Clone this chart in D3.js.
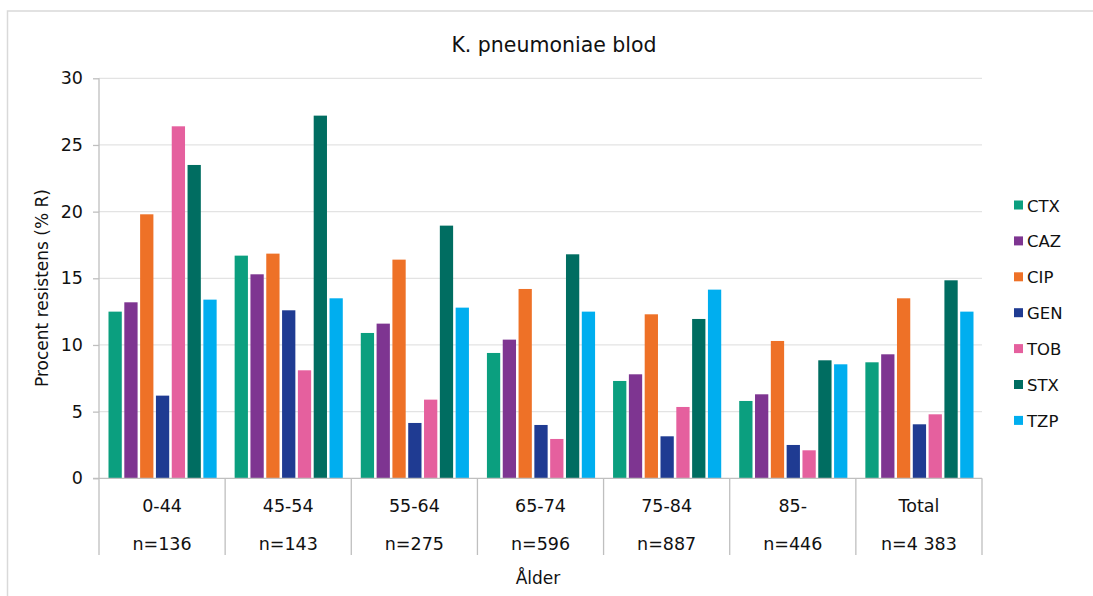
<!DOCTYPE html>
<html>
<head>
<meta charset="utf-8">
<script src="https://cdn.jsdelivr.net/npm/d3@7"></script>
<style>
html,body{margin:0;padding:0;background:#fff;}
svg{display:block;font-family:"DejaVu Sans",Verdana,sans-serif;}
</style>
</head>
<body>
<svg id="chart" width="1093" height="596"></svg>
<script>
const categories = ["0-44","45-54","55-64","65-74","75-84","85-","Total"];
const counts = ["n=136","n=143","n=275","n=596","n=887","n=446","n=4 383"];
const seriesNames = ["CTX","CAZ","CIP","GEN","TOB","STX","TZP"];
const seriesColors = ["#0b9f7f","#7e3591","#ee7127","#1f3b92","#e5609e","#006d61","#00aeef"];
const CTX = [12.5,16.7,10.9,9.4,7.3,5.8,8.7];
const CAZ = [13.2,15.3,11.6,10.4,7.8,6.3,9.3];
const CIP = [19.8,16.85,16.4,14.2,12.3,10.3,13.5];
const GEN = [6.2,12.6,4.15,4.0,3.15,2.5,4.05];
const TOB = [26.4,8.1,5.9,2.95,5.35,2.1,4.8];
const STX = [23.5,27.2,18.95,16.8,11.95,8.85,14.85];
const TZP = [13.4,13.5,12.8,12.5,14.15,8.55,12.5];
const yTicks = [0,5,10,15,20,25,30];

(function(){
const seriesValues = [CTX,CAZ,CIP,GEN,TOB,STX,TZP];
const svg = d3.select("#chart");
const txt = "#111";

// outer frame
svg.append("rect").attr("x",7.5).attr("y",11).attr("width",1100).attr("height",600)
  .attr("fill","none").attr("stroke","#d9d9d9").attr("stroke-width",1.5);

const pL = 99, pR = 982, pT = 78.3, pB = 478.3;
const x0 = d3.scaleBand().domain(categories).range([pL,pR]).padding(0);
const x1 = d3.scaleBand().domain(seriesNames).range([9.5, x0.bandwidth()-8.5]).paddingInner(0.16);
const y = d3.scaleLinear().domain([0,30]).range([pB,pT]);

// gridlines
svg.append("g").selectAll("line").data(yTicks.filter(d=>d>0)).join("line")
  .attr("x1",pL).attr("x2",pR).attr("y1",d=>y(d)).attr("y2",d=>y(d))
  .attr("stroke","#e3e3e3").attr("stroke-width",1.3);

// y axis
const yAxis = d3.axisLeft(y).tickValues(yTicks).tickSize(6).tickPadding(10).tickFormat(d3.format("d"));
const gy = svg.append("g").attr("transform",`translate(${pL},0)`).call(yAxis);
gy.select(".domain").remove();
gy.selectAll(".tick line").attr("stroke","#bfbfbf").attr("stroke-width",1.3);
gy.selectAll(".tick text").attr("font-size","17.5px").attr("fill",txt)
  .attr("font-family","DejaVu Sans, Verdana, sans-serif");

// bars
const groups = svg.append("g").selectAll("g").data(categories).join("g")
  .attr("transform",d=>`translate(${x0(d)},0)`);
groups.selectAll("rect").data((c,ci)=>seriesNames.map((s,si)=>({s,si,v:seriesValues[si][ci]}))).join("rect")
  .attr("x",d=>x1(d.s)).attr("width",x1.bandwidth())
  .attr("y",d=>y(d.v)).attr("height",d=>y(0)-y(d.v))
  .attr("fill",d=>seriesColors[d.si]);

// y axis line and separators
svg.append("line").attr("x1",pL).attr("x2",pL).attr("y1",pT).attr("y2",pB)
  .attr("stroke","#bfbfbf").attr("stroke-width",1.3);
svg.append("line").attr("x1",pL-6).attr("x2",pR).attr("y1",pB).attr("y2",pB)
  .attr("stroke","#bfbfbf").attr("stroke-width",1.3);
const seps = categories.map(c=>x0(c)).concat([pR]);
svg.append("g").selectAll("line").data(seps).join("line")
  .attr("x1",d=>d).attr("x2",d=>d).attr("y1",pB).attr("y2",555)
  .attr("stroke","#bfbfbf").attr("stroke-width",1.3);

// category labels
svg.append("g").selectAll("text").data(categories).join("text")
  .attr("x",d=>x0(d)+x0.bandwidth()/2).attr("y",512)
  .attr("text-anchor","middle").attr("font-size","17.5px").attr("fill",txt).text(d=>d);
svg.append("g").selectAll("text").data(counts).join("text")
  .attr("x",(d,i)=>x0(categories[i])+x0.bandwidth()/2).attr("y",550)
  .attr("text-anchor","middle").attr("font-size","17.5px").attr("fill",txt).text(d=>d);

// title
svg.append("text").attr("x",554).attr("y",52).attr("text-anchor","middle")
  .attr("font-size","20.5px").attr("fill",txt).text("K. pneumoniae blod");

// axis titles
svg.append("text").attr("x",538).attr("y",584).attr("text-anchor","middle")
  .attr("font-size","17px").attr("fill",txt).text("Ålder");
svg.append("text").attr("transform","translate(48,288) rotate(-90)").attr("text-anchor","middle")
  .attr("font-size","17px").attr("fill",txt).text("Procent resistens (% R)");

// legend
const lg = svg.append("g").selectAll("g").data(seriesNames).join("g")
  .attr("transform",(d,i)=>`translate(1014,${205+i*35.9})`);
lg.append("rect").attr("x",0).attr("y",-4.5).attr("width",9).attr("height",9)
  .attr("fill",(d,i)=>seriesColors[i]);
lg.append("text").attr("x",13).attr("y",6.5).attr("font-size","16.5px").attr("fill",txt).text(d=>d);
})();
</script>
</body>
</html>
